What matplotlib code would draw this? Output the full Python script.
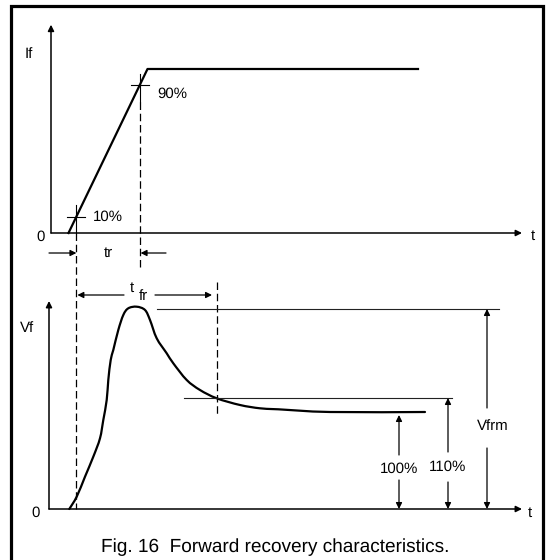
import numpy as np
import matplotlib
matplotlib.use("Agg")
import matplotlib.pyplot as plt
from matplotlib.path import Path
from matplotlib.patches import PathPatch

plt.rcParams['font.family'] = ['Liberation Sans', 'DejaVu Sans']
plt.rcParams['text.hinting'] = 'no_hinting'
plt.rcParams['text.hinting_factor'] = 1

# forward current If (%) vs t (arbitrary units)
if_t = [1.75, 9.65, 36.7]
if_v = [0, 100, 100]

# forward voltage Vf (arbitrary units) vs t
vf_t = [1.83, 2.57, 3.40, 4.23, 4.90, 5.23, 5.57, 5.73, 5.97, 6.23, 6.73, 7.23,
        7.73, 8.57, 9.40, 9.90, 10.57, 11.57, 12.23, 13.57, 14.90, 16.57,
        18.90, 20.90, 22.73, 27.9, 37.4]
vf_v = [0, 1.23, 3.23, 5.23, 7.07, 8.9, 10.9, 12.9, 14.9, 15.9, 17.9, 19.4,
        20.07, 20.23, 19.9, 18.9, 17.07, 15.57, 14.57, 12.9, 11.9, 11.07,
        10.4, 10.07, 9.97, 9.7, 9.7]

vf_peak = 20.0
vf_110 = 11.1
t_fr_end = 16.6

W, H = 547, 560
fig = plt.figure(figsize=(W / 100, H / 100), dpi=100)

ax0 = fig.add_axes([0, 0, 1, 1])
ax0.set_xlim(0, W)
ax0.set_ylim(H, 0)
ax0.axis('off')

ax1 = fig.add_axes([0, 0, 1, 1])
ax1.set_xlim(-5.1, 49.6)
ax1.set_ylim(-199.39, 142.07)
ax1.axis('off')

ax2 = fig.add_axes([0, 0, 1, 1])
ax2.set_xlim(-5.1, 49.6)
ax2.set_ylim(-5.1, 50.9)
ax2.axis('off')

# frame
ax0.plot([11, 11, 543, 543], [H + 5, 6, 6, H + 5], color='k', lw=2.3,
         solid_joinstyle='miter', clip_on=False)

fs = 10.5
dash = (0, (6, 3))


def arrow(ax, tip, tail, lw=0.9, ms=9):
    ax.annotate('', xy=tip, xytext=tail,
                arrowprops=dict(arrowstyle='-|>', color='k', lw=lw,
                                mutation_scale=ms, shrinkA=0, shrinkB=0))


def smooth_path(x, y):
    # cubic bezier segments through the read points (Catmull-Rom tangents)
    p = np.column_stack([x, y]).astype(float)
    verts = [p[0]]
    codes = [Path.MOVETO]
    n = len(p)
    for i in range(n - 1):
        p0 = p[max(i - 1, 0)]
        p1, p2 = p[i], p[i + 1]
        p3 = p[min(i + 2, n - 1)]
        verts += [p1 + (p2 - p0) / 6, p2 - (p3 - p1) / 6, p2]
        codes += [Path.CURVE4] * 3
    return Path(verts, codes)


# ---- top: If ----
arrow(ax1, (0, 127), (0, 0), lw=1.1)
arrow(ax1, (47.1, 0), (0, 0), lw=1.1)
ax1.plot(if_t, if_v, color='k', lw=1.6)
ax1.text(-2.2, 109, 'If', fontsize=fs, ha='center', va='center')
ax1.text(-1.0, -2.5, '0', fontsize=fs, ha='center', va='center')
ax1.text(48.2, -2.0, 't', fontsize=fs, ha='center', va='center')

t10 = np.interp(10, if_v, if_t)
t90 = np.interp(90, if_v, if_t)
ax1.plot([t10 - 0.9, t10 + 0.9], [10, 10], color='k', lw=0.8)
ax1.plot([t10, t10], [0, 17], color='k', lw=0.8)
ax1.plot([t90 - 0.9, t90 + 0.9], [90, 90], color='k', lw=0.8)
ax1.plot([t90, t90], [80, 97], color='k', lw=0.8)
ax1.text(4.2, 10, '10%', fontsize=fs, ha='left', va='center')
ax1.text(10.6, 85, '90%', fontsize=fs, ha='left', va='center')

ax1.plot([t90, t90], [80, -21.5], color='k', lw=0.9, ls=dash)
arrow(ax1, (t10, -12.2), (-0.2, -12.2))
arrow(ax1, (t90 + 0.1, -12.2), (11.5, -12.2))
ax1.text(5.7, -12.2, 'tr', fontsize=fs, ha='center', va='center')

# ---- bottom: Vf ----
arrow(ax2, (-0.2, 20.8), (-0.2, 0), lw=1.1)
arrow(ax2, (47.1, 0), (-0.2, 0), lw=1.1)
ax2.add_patch(PathPatch(smooth_path(vf_t, vf_v), fill=False, color='k',
                        lw=1.6, capstyle='round'))
ax2.text(-2.4, 18.1, 'Vf', fontsize=fs, ha='center', va='center')
ax2.text(-1.5, -0.4, '0', fontsize=fs, ha='center', va='center')
ax2.text(47.9, -0.4, 't', fontsize=fs, ha='center', va='center')

# dashed line from 10% point down through both panels
ax2.plot([t10, t10], [27.6, 0], color='k', lw=0.9, ls=dash)
ax2.plot([t_fr_end, t_fr_end], [22.7, 9.2], color='k', lw=0.9, ls=dash)

# reference levels
ax2.plot([10.6, 44.8], [vf_peak, vf_peak], color='#222222', lw=0.8)
ax2.plot([13.3, 40.1], [vf_110, vf_110], color='#222222', lw=0.8)

# t_fr dimension
arrow(ax2, (t10 + 0.1, 21.4), (7.3, 21.4))
arrow(ax2, (t_fr_end - 0.5, 21.4), (10.4, 21.4))
ax2.text(8.1, 22.1, 't', fontsize=fs, ha='center', va='center')
ax2.text(9.2, 21.3, 'fr', fontsize=fs, ha='center', va='center')

# vertical dimensions
dims = [(34.8, 9.4, '100%', 4.0, 5.4, 2.9),
        (39.7, vf_110, '110%', 4.2, 5.7, 2.7),
        (43.6, vf_peak, 'Vfrm', 8.3, 10.1, 6.1)]
for t, top, lab, ty, g1, g2 in dims:
    arrow(ax2, (t, top), (t, g1))
    arrow(ax2, (t, 0), (t, g2))
    ax2.text(t + (0.6 if lab == 'Vfrm' else 0), ty, lab, fontsize=fs,
             ha='center', va='center')

fig.text(275 / W, 1 - 547 / H, 'Fig. 16  Forward recovery characteristics.',
         fontsize=13.5, ha='center', va='center')

fig.savefig('out.png', dpi=100)
